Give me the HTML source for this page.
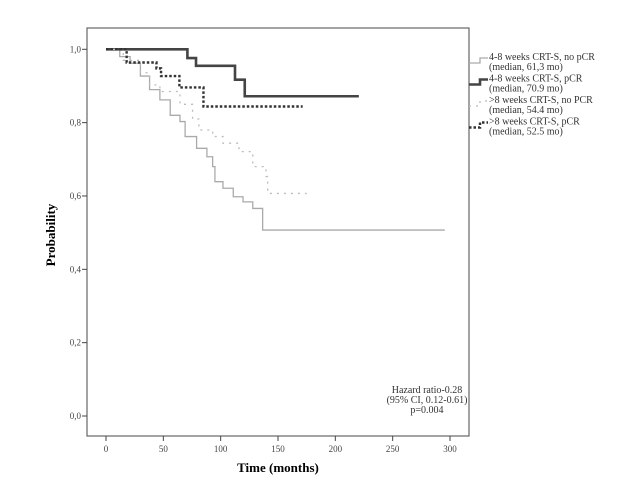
<!DOCTYPE html>
<html><head><meta charset="utf-8"><style>
body{margin:0;background:#fff}
svg{display:block;font-family:"Liberation Serif",serif}
</style></head><body>
<svg id="chart" width="636" height="499">
<rect x="87" y="28" width="382" height="408" fill="none" stroke="#666" stroke-width="1.2"/>
<g id="axes"></g>
<g id="series"></g>
<text x="55" y="235" transform="rotate(-90 55 235)" text-anchor="middle" font-weight="bold" font-size="13">Probability</text>
<text x="278" y="472" text-anchor="middle" font-weight="bold" font-size="13">Time (months)</text>
<g font-size="10" fill="#333" text-anchor="middle">
<text x="427" y="393">Hazard ratio-0.28</text>
<text x="427" y="403">(95% CI, 0.12-0.61)</text>
<text x="427" y="413">p=0.004</text>
</g>
<g id="legend" font-size="10" fill="#333"></g>
</svg>
<script>
const xTicks=[0,50,100,150,200,250,300];
const yTicks=[0,0.2,0.4,0.6,0.8,1.0];
const yTickLabels=["0,0","0,2","0,4","0,6","0,8","1,0"];
const seriesNames=["4-8 weeks CRT-S, no pCR","4-8 weeks CRT-S, pCR",">8 weeks CRT-S, no PCR",">8 weeks CRT-S, pCR"];
const seriesMedians=["(median, 61,3 mo)","(median, 70.9 mo)","(median, 54.4 mo)","(median, 52.5 mo)"];
const s1Times=[0,12,21,30,38,47,56,64.5,69,79,88,93,95,102,111,119.5,128,136.6,295.5];
const s1Probs=[1,0.98,0.962,0.927,0.89,0.862,0.82,0.803,0.762,0.73,0.707,0.68,0.639,0.621,0.598,0.584,0.566,0.507,0.507];
const s2Times=[0,71,78.5,112.5,121,220.5];
const s2Probs=[1,0.976,0.955,0.917,0.872,0.872];
const s3Times=[0,15,30,38,47,64.5,75.5,81,93,102,116,128,139.5,141,175];
const s3Probs=[1,0.97,0.936,0.903,0.885,0.85,0.81,0.78,0.762,0.744,0.721,0.68,0.653,0.607,0.607];
const s4Times=[0,18,44,48,64,85,171.5];
const s4Probs=[1,0.964,0.948,0.927,0.896,0.844,0.844];
const xS=t=>106+t*(344/300);
const yS=p=>416-p*366.7;
const NS="http://www.w3.org/2000/svg";
function mk(tag,attrs,parent){const e=document.createElementNS(NS,tag);for(const k in attrs)e.setAttribute(k,attrs[k]);parent.appendChild(e);return e;}
const axes=document.getElementById('axes');
xTicks.forEach(t=>{
 const l=mk('line',{x1:xS(t),x2:xS(t),y1:436,y2:441,stroke:'#444'},axes);
 
 
 const tx=mk('text',{x:xS(t),y:452,'text-anchor':'middle','font-size':'9',fill:'#444'},axes);
 tx.textContent=t;
 
 
});
yTicks.forEach((p,i)=>{
 const l=mk('line',{x1:82,x2:87,y1:yS(p),y2:yS(p),stroke:'#444'},axes);
 
 
 const tx=mk('text',{x:81,y:yS(p)+3,'text-anchor':'end','font-size':'9',fill:'#444'},axes);
 tx.textContent=yTickLabels[i];
 
 
});
const styles=[
 {stroke:'#aaa','stroke-width':1.3},
 {stroke:'#444','stroke-width':2.6},
 {stroke:'#bbb','stroke-width':1.3,'stroke-dasharray':'2 5'},
 {stroke:'#333','stroke-width':2.4,'stroke-dasharray':'2.5 2'}
];
const data=[[s1Times,s1Probs],[s2Times,s2Probs],[s3Times,s3Probs],[s4Times,s4Probs]];
const sg=document.getElementById('series');
data.forEach(([T,P],i)=>{
 let d='M'+xS(T[0])+','+yS(P[0]);
 for(let k=1;k<T.length;k++){d+=' H'+xS(T[k])+' V'+yS(P[k]);}
 const p=mk('path',Object.assign({d:d,fill:'none'},styles[i]),sg);
 
 
});
const lg=document.getElementById('legend');
seriesNames.forEach((n,i)=>{
 const y0=58+i*21.5;
 const g=mk('g',{},lg);
 
 
 mk('path',Object.assign({d:'M469,'+(y0+5)+' H480 V'+(y0)+' H488',fill:'none'},styles[i]),g);
 const t1=mk('text',{x:489,y:y0+2},g);t1.textContent=n;
 const t2=mk('text',{x:489,y:y0+12},g);t2.textContent=seriesMedians[i];
});
</script>
</body></html>
